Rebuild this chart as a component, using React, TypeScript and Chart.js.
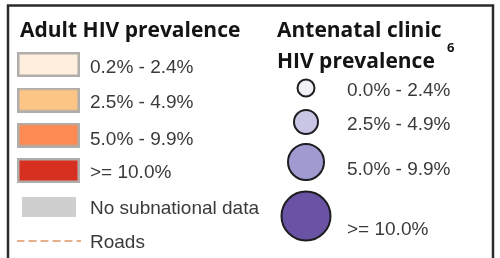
import React, { useEffect, useRef } from 'react';
import { Chart, registerables } from 'chart.js';

Chart.register(...registerables);

// ---------- data ----------
const adultTitle = 'Adult HIV prevalence';
const adultLabels = ['0.2% - 2.4%', '2.5% - 4.9%', '5.0% - 9.9%', '>= 10.0%'];
const adultColors = ['#fdeede', '#fdc585', '#fd8a52', '#d83020'];
const noDataLabel = 'No subnational data';
const noDataColor = '#cfcfcf';
const roadsLabel = 'Roads';
const roadsColor = '#e6b08c';

const ancTitle = ['Antenatal clinic', 'HIV prevalence'];
const ancNote = '6';
const ancLabels = ['0.0% - 2.4%', '2.5% - 4.9%', '5.0% - 9.9%', '>= 10.0%'];
const ancColors = ['#f1f0f6', '#c9c5e5', '#9f9ad0', '#6a52a5'];

// ---------- layout / style ----------
const LEFT_X = 48.5;
const LEFT_ROWS = [64.5, 100, 135, 170.5, 206.5, 241];
const LEFT_BASELINES = [73, 108, 144.5, 178, 214, 248];
const RIGHT_X = 306;
const RIGHT_ROWS = [88, 122, 162, 216];
const RIGHT_BASELINES = [96, 130, 175, 235];
const ANC_RADIUS = [8.5, 12, 18, 24.5];

function makeSwatch(color: string) {
  const c = document.createElement('canvas');
  c.width = 63;
  c.height = 25;
  const g = c.getContext('2d')!;
  g.fillStyle = color;
  g.fillRect(0, 0, 63, 25);
  g.strokeStyle = '#b0adab';
  g.lineWidth = 2.5;
  g.strokeRect(1.25, 1.25, 60.5, 22.5);
  return c;
}
function makeGrey(color: string) {
  const c = document.createElement('canvas');
  c.width = 54;
  c.height = 20;
  const g = c.getContext('2d')!;
  g.fillStyle = color;
  g.fillRect(0, 0, 54, 20);
  return c;
}
function makeRoad(color: string) {
  const c = document.createElement('canvas');
  c.width = 64;
  c.height = 4;
  const g = c.getContext('2d')!;
  g.strokeStyle = color;
  g.lineWidth = 2;
  g.setLineDash([8, 4]);
  g.beginPath();
  g.moveTo(0, 2);
  g.lineTo(64, 2);
  g.stroke();
  return c;
}

export default function App() {
  const ref = useRef<HTMLCanvasElement | null>(null);

  useEffect(() => {
    if (!ref.current) return;
    const leftLabels = [...adultLabels, noDataLabel, roadsLabel];
    const leftStyles = [
      ...adultColors.map(makeSwatch),
      makeGrey(noDataColor),
      makeRoad(roadsColor),
    ];

    const textPlugin = {
      id: 'legendText',
      beforeDraw(chart: any) {
        const ctx = chart.ctx;
        ctx.save();
        ctx.fillStyle = '#ffffff';
        ctx.fillRect(0, 0, chart.width, chart.height);
        ctx.strokeStyle = '#2b2b2b';
        ctx.lineWidth = 2.5;
        ctx.strokeRect(8, 5.5, 485, 300);
        ctx.restore();
      },
      afterDatasetsDraw(chart: any) {
        const ctx = chart.ctx;
        ctx.save();
        ctx.textBaseline = 'alphabetic';
        ctx.textAlign = 'left';
        ctx.fillStyle = '#141414';
        ctx.font = '700 21px "Open Sans"';
        ctx.fillText(adultTitle, 20, 37);
        ctx.fillText(ancTitle[0], 277, 37);
        ctx.fillText(ancTitle[1], 277, 68);
        ctx.font = '700 13px "Open Sans"';
        ctx.fillText(ancNote, 447, 52);

        ctx.fillStyle = '#3a3a3a';
        ctx.font = '19px "Liberation Sans"';
        const m0 = chart.getDatasetMeta(0);
        m0.data.forEach((el: any, i: number) => {
          ctx.fillText(leftLabels[i], el.x + 41.5, LEFT_BASELINES[i]);
        });
        const m1 = chart.getDatasetMeta(1);
        m1.data.forEach((el: any, i: number) => {
          ctx.fillText(ancLabels[i], el.x + 41, RIGHT_BASELINES[i]);
        });
        ctx.restore();
      },
    };

    const chart = new Chart(ref.current, {
      type: 'scatter',
      data: {
        datasets: [
          {
            label: adultTitle,
            data: leftLabels.map((_, i) => ({ x: LEFT_X, y: LEFT_ROWS[i] })),
            pointStyle: leftStyles as any,
            pointRadius: 5,
            clip: false as any,
          },
          {
            label: ancTitle.join(' '),
            data: ancLabels.map((_, i) => ({ x: RIGHT_X, y: RIGHT_ROWS[i] })),
            pointStyle: 'circle',
            pointRadius: ANC_RADIUS,
            backgroundColor: ancColors,
            borderColor: '#1e1e22',
            borderWidth: 2,
            clip: false as any,
          },
        ],
      },
      options: {
        responsive: false,
        animation: false,
        events: [],
        devicePixelRatio: 1,
        layout: { padding: 0, autoPadding: false },
        plugins: { legend: { display: false }, tooltip: { enabled: false } },
        scales: {
          x: { type: 'linear', min: 0, max: 500, display: false },
          y: { type: 'linear', min: 0, max: 258, reverse: true, display: false },
        },
      },
      plugins: [textPlugin],
    });
    return () => chart.destroy();
  }, []);

  return (
    <div style={{ position: 'fixed', left: 0, top: 0, width: 500, height: 258, background: '#fff' }}>
      <canvas ref={ref} width={500} height={258} style={{ width: 500, height: 258, display: 'block' }} />
    </div>
  );
}
